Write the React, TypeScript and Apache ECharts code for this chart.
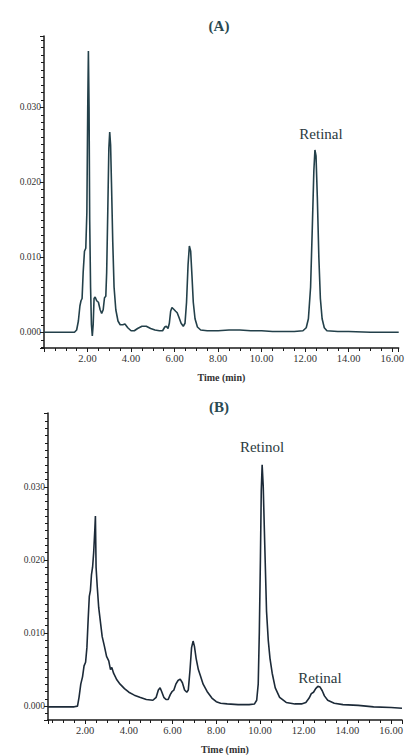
import React, { useEffect, useRef } from "react";
import * as echarts from "echarts";

// Panel A: time (min) and absorbance (AU)
const timeA = [0.0, 0.5, 1.0, 1.4, 1.5, 1.58, 1.65, 1.7, 1.75, 1.8, 1.86, 1.92, 1.97, 2.01, 2.04, 2.07, 2.1, 2.14, 2.18, 2.22, 2.26, 2.3, 2.35, 2.42, 2.5, 2.58, 2.65, 2.72, 2.78, 2.84, 2.88, 2.93, 2.98, 3.02, 3.06, 3.1, 3.16, 3.22, 3.3, 3.4, 3.5, 3.62, 3.72, 3.85, 4.0, 4.15, 4.3, 4.5, 4.7, 4.9, 5.1, 5.3, 5.45, 5.55, 5.62, 5.7, 5.76, 5.82, 5.88, 5.95, 6.05, 6.12, 6.2, 6.3, 6.4, 6.48, 6.55, 6.62, 6.68, 6.74, 6.8, 6.86, 6.94, 7.05, 7.2, 7.5, 8.0, 8.5, 9.0, 9.5, 10.0, 10.5, 11.0, 11.5, 11.9, 12.05, 12.15, 12.25, 12.33, 12.4, 12.45, 12.5, 12.56, 12.63, 12.7, 12.78, 12.88, 13.0, 13.5, 14.0, 15.0, 16.0, 16.3];
const absA = [0.0, 0.0, 0.0, 0.0, 0.0003, 0.0015, 0.0035, 0.0042, 0.0045, 0.008, 0.0108, 0.0112, 0.016, 0.03, 0.0375, 0.03, 0.015, 0.006, 0.001, -0.0005, 0.001, 0.0045, 0.0047, 0.0042, 0.004, 0.003, 0.0025, 0.003, 0.0046, 0.0048, 0.008, 0.016, 0.0245, 0.0267, 0.025, 0.02, 0.012, 0.006, 0.003, 0.0015, 0.001, 0.001, 0.0011, 0.0006, 0.0002, 0.0002, 0.0005, 0.0008, 0.0008, 0.0005, 0.0003, 0.0002, 0.0002, 0.0007, 0.0008, 0.0005, 0.0012, 0.0028, 0.0033, 0.0031, 0.0028, 0.0026, 0.002, 0.0012, 0.0008, 0.0012, 0.004, 0.009, 0.0115, 0.0108, 0.0075, 0.004, 0.0018, 0.0007, 0.0003, 0.0002, 0.0002, 0.0003, 0.0003, 0.0002, 0.0002, 0.0001, 0.0001, 0.0001, 0.0002, 0.0006, 0.0018, 0.006, 0.014, 0.0215, 0.0243, 0.0235, 0.018, 0.01, 0.0045, 0.0018, 0.0006, 0.0002, 0.0001, 0.0001, 0.0, 0.0, 0.0];

// Panel B
const timeB = [0.3, 1.0, 1.5, 1.65, 1.72, 1.8, 1.88, 1.95, 2.02, 2.08, 2.14, 2.19, 2.24, 2.29, 2.34, 2.39, 2.44, 2.47, 2.5, 2.55, 2.62, 2.7, 2.78, 2.88, 2.98, 3.08, 3.16, 3.22, 3.3, 3.45, 3.6, 3.8, 4.0, 4.25, 4.5, 4.8, 5.1, 5.25, 5.35, 5.43, 5.5, 5.6, 5.7, 5.8, 5.9, 5.98, 6.06, 6.15, 6.25, 6.35, 6.45, 6.55, 6.65, 6.72, 6.8, 6.87, 6.94, 7.0, 7.08, 7.18, 7.26, 7.4, 7.58, 7.8, 8.0, 8.2, 8.5, 9.0, 9.5, 9.75, 9.85, 9.92, 9.97, 10.02, 10.06, 10.1, 10.15, 10.22, 10.3, 10.38, 10.46, 10.56, 10.7, 10.9, 11.2, 11.6, 11.9, 12.1, 12.25, 12.35, 12.45, 12.55, 12.65, 12.75, 12.85, 12.95, 13.1, 13.4, 13.8, 14.5, 15.2, 16.0, 16.5];
const absB = [-0.0001, -0.0001, -0.0001, 0.0, 0.0012, 0.003, 0.004, 0.0055, 0.006, 0.008, 0.012, 0.015, 0.0158, 0.018, 0.019, 0.021, 0.024, 0.026, 0.019, 0.0165, 0.0135, 0.0115, 0.0095, 0.0082, 0.0068, 0.0062, 0.005, 0.0053, 0.0045, 0.0036, 0.003, 0.0024, 0.0019, 0.0015, 0.0012, 0.0009, 0.0008, 0.0012, 0.0022, 0.0025, 0.002, 0.0012, 0.0009, 0.0009, 0.0016, 0.002, 0.0022, 0.003, 0.0035, 0.0037, 0.0032, 0.0022, 0.0019, 0.0022, 0.005, 0.008, 0.0089, 0.0082, 0.0065, 0.005, 0.0043, 0.003, 0.002, 0.0011, 0.0006, 0.0004, 0.0003, 0.0002, 0.0002, 0.0003, 0.0008, 0.003, 0.01, 0.02, 0.0295, 0.033, 0.03, 0.022, 0.013, 0.009, 0.0065, 0.0045, 0.0025, 0.0012, 0.0005, 0.0003, 0.0003, 0.0005, 0.0011, 0.0017, 0.0019, 0.0024, 0.0027, 0.0026, 0.0021, 0.0014, 0.0008, 0.0004, 0.0002, 0.0001, -0.0001, -0.0002, -0.0003, -0.0003];

const panelTitles = ["(A)", "(B)"];
const xAxisName = "Time (min)";
const peakLabelsA = ["Retinal"];
const peakLabelsB = ["Retinol", "Retinal"];
const yTickLabels = ["0.000", "0.010", "0.020", "0.030"];

const FONT = "'Liberation Serif', 'DejaVu Serif', serif";
const AXIS_COLOR = "#1a1a1a";

const yFormatter = (v: number) => {
  const r = Math.round(v / 0.01) * 0.01;
  if (Math.abs(v - r) < 1e-9) {
    const s = r.toFixed(3);
    if (yTickLabels.indexOf(s) >= 0) return s;
  }
  return "";
};
const xFormatter = (v: number) => {
  const r = Math.round(v / 2) * 2;
  if (Math.abs(v - r) < 1e-9 && r > 0) return r.toFixed(2);
  return "";
};

function makeX(gridIndex: number, min: number, max: number) {
  return {
    type: "value",
    gridIndex,
    min,
    max,
    splitNumber: 8,
    name: xAxisName,
    nameLocation: "middle",
    nameGap: 24,
    nameTextStyle: { fontFamily: FONT, fontSize: 10, color: "#333", fontWeight: "bold" },
    axisLine: { show: true, onZero: false, lineStyle: { color: AXIS_COLOR, width: 1.5 } },
    axisTick: { show: true, length: 4, inside: false, lineStyle: { color: AXIS_COLOR } },
    minorTick: { show: true, splitNumber: 4, length: 3, lineStyle: { color: AXIS_COLOR } },
    splitLine: { show: false },
    axisLabel: { formatter: xFormatter, fontFamily: FONT, fontSize: 10.5, color: "#333", margin: 5 },
  };
}

function makeY(gridIndex: number, min: number, max: number) {
  return {
    type: "value",
    gridIndex,
    min,
    max,
    splitNumber: 4,
    axisLine: { show: true, onZero: false, lineStyle: { color: AXIS_COLOR, width: 1.5 } },
    axisTick: { show: true, length: 4, lineStyle: { color: AXIS_COLOR } },
    minorTick: { show: true, splitNumber: 10, length: 3, lineStyle: { color: AXIS_COLOR } },
    splitLine: { show: false },
    axisLabel: { formatter: yFormatter, fontFamily: FONT, fontSize: 9.5, color: "#333", margin: 3 },
  };
}

export default function App() {
  const ref = useRef<HTMLDivElement>(null);
  useEffect(() => {
    document.body.style.margin = "0";
    if (!ref.current) return;
    const chart = echarts.init(ref.current, undefined, { renderer: "svg" });
    const labelStyle = { fontFamily: FONT, fontSize: 15, fill: "#2b3a3e" };
    chart.setOption({
      animation: false,
      backgroundColor: "#ffffff",
      title: [
        {
          text: panelTitles[0],
          left: 214,
          top: 13,
          textAlign: "center",
          textStyle: { fontFamily: FONT, fontSize: 15, fontWeight: "bold", color: "#2a4a52" },
        },
        {
          text: panelTitles[1],
          left: 214,
          top: 394,
          textAlign: "center",
          textStyle: { fontFamily: FONT, fontSize: 15, fontWeight: "bold", color: "#2a4a52" },
        },
      ],
      grid: [
        { left: 44, top: 36, width: 359, height: 312 },
        { left: 48, top: 413, width: 354, height: 313 },
      ],
      xAxis: [makeX(0, 0, 16.3), makeX(1, 0.3, 16.5)],
      yAxis: [makeY(0, -0.0021, 0.0395), makeY(1, -0.0019, 0.0401)],
      series: [
        {
          type: "line",
          xAxisIndex: 0,
          yAxisIndex: 0,
          data: timeA.map((t, i) => [t, absA[i]]),
          showSymbol: false,
          lineStyle: { color: "#23404a", width: 1.6 },
        },
        {
          type: "line",
          xAxisIndex: 1,
          yAxisIndex: 1,
          data: timeB.map((t, i) => [t, absB[i]]),
          showSymbol: false,
          lineStyle: { color: "#1c2a38", width: 1.6 },
        },
      ],
      graphic: [
        { type: "text", x: 321, y: 134, style: { ...labelStyle, text: peakLabelsA[0], align: "center", verticalAlign: "middle" } },
        { type: "text", x: 262, y: 447, style: { ...labelStyle, text: peakLabelsB[0], align: "center", verticalAlign: "middle" } },
        { type: "text", x: 320, y: 678, style: { ...labelStyle, text: peakLabelsB[1], align: "center", verticalAlign: "middle" } },
      ],
    });
    return () => chart.dispose();
  }, []);
  return <div ref={ref} style={{ width: 407, height: 755 }} />;
}
